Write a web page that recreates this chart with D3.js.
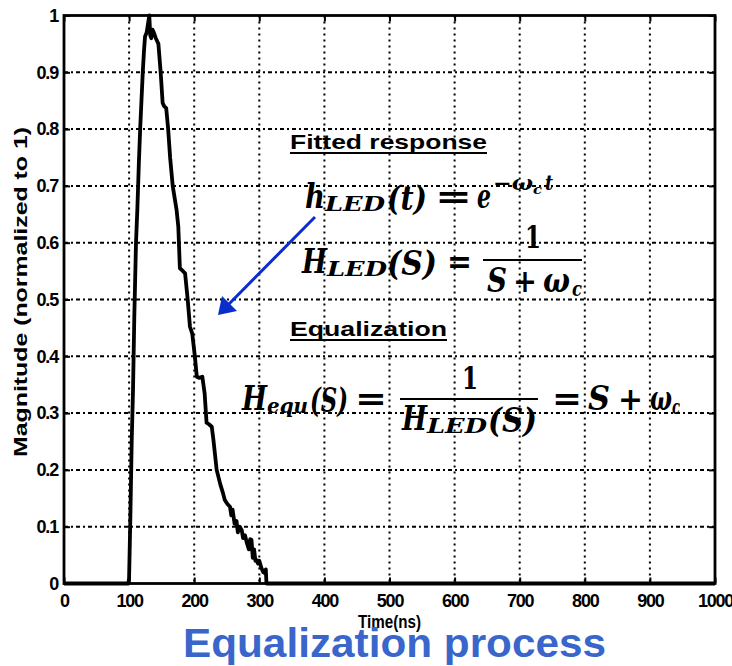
<!DOCTYPE html>
<html>
<head>
<meta charset="utf-8">
<script src="https://cdn.jsdelivr.net/npm/d3@7"></script>
<style>
  body { margin: 0; background: #fff; }
  text { font-family: "Liberation Sans", Arial, sans-serif; font-weight: bold; }
  .eq { font-family: "DejaVu Serif", serif; font-style: italic; font-weight: bold; }
  .eqr { font-family: "DejaVu Serif", serif; font-weight: bold; }
</style>
</head>
<body>
<div id="chart"></div>
<script>
// measured pulse, time (ns) vs normalized magnitude
var timeNs = [0, 99, 100, 102, 104, 106, 108, 110.6, 112.6, 115, 117, 119, 121, 123, 124.5, 127, 129, 131,
  132.5, 134, 136, 138, 141, 143, 145, 148.5, 151.5, 154, 157, 160, 163, 167, 170.5, 173, 175.6, 178, 181,
  186, 190, 193.5, 197, 201, 204, 208, 212.5, 216, 219, 223, 227, 229.5, 234.5, 240, 244, 247, 251, 255,
  257, 259, 262, 265, 267, 270, 273, 275, 278, 281, 284, 286, 288, 290, 292, 294, 296, 298, 300, 303, 306,
  309, 310, 311, 1000];
var magnitude = [0, 0, 0.01, 0.12, 0.25, 0.34, 0.47, 0.6, 0.657, 0.74, 0.8, 0.85, 0.9, 0.94, 0.963, 0.97, 0.985, 1.0,
  0.965, 0.96, 0.975, 0.97, 0.96, 0.955, 0.95, 0.9, 0.846, 0.84, 0.837, 0.8, 0.75, 0.7, 0.675, 0.657, 0.628, 0.555, 0.552,
  0.546, 0.5, 0.452, 0.44, 0.4, 0.364, 0.362, 0.364, 0.335, 0.283, 0.28, 0.276, 0.253, 0.2, 0.175, 0.16, 0.147, 0.14, 0.135,
  0.12, 0.13, 0.105, 0.11, 0.09, 0.1, 0.094, 0.08, 0.085, 0.071, 0.06, 0.078, 0.077, 0.045, 0.06, 0.04, 0.041, 0.035, 0.04, 0.028, 0.02,
  0.018, 0.025, 0, 0];

var xTicks = [0, 100, 200, 300, 400, 500, 600, 700, 800, 900, 1000];
var yTicks = [0, 0.1, 0.2, 0.3, 0.4, 0.5, 0.6, 0.7, 0.8, 0.9, 1];
var yTickLabels = ["0", "0.1", "0.2", "0.3", "0.4", "0.5", "0.6", "0.7", "0.8", "0.9", "1"];

var W = 732, H = 666;
var mLeft = 64, mRight = 715, mTop = 15.5, mBottom = 583.5;

var svg = d3.select("#chart").append("svg")
    .attr("width", W)
    .attr("height", H);
svg.append("rect").attr("width", W).attr("height", H).attr("fill", "#fff");

var x = d3.scaleLinear().domain([0, 1000]).range([mLeft, mRight]);
var y = d3.scaleLinear().domain([0, 1]).range([mBottom, mTop]);

// grid
svg.append("g").selectAll("line").data(xTicks.slice(1, -1)).enter().append("line")
    .attr("x1", d => x(d)).attr("x2", d => x(d))
    .attr("y1", mTop).attr("y2", mBottom)
    .attr("stroke", "#000").attr("stroke-width", 2)
    .attr("stroke-dasharray", "2,4");
svg.append("g").selectAll("line").data(yTicks.slice(1, -1)).enter().append("line")
    .attr("x1", mLeft).attr("x2", mRight)
    .attr("y1", d => y(d)).attr("y2", d => y(d))
    .attr("stroke", "#000").attr("stroke-width", 2)
    .attr("stroke-dasharray", "4,3,2,3");

// axes, ticks pointing inward
var gx = svg.append("g").attr("transform", "translate(0," + mBottom + ")")
    .call(d3.axisBottom(x).tickValues(xTicks).tickFormat(d3.format("d"))
      .tickSizeInner(-6).tickSizeOuter(0).tickPadding(11));
var gy = svg.append("g").attr("transform", "translate(" + mLeft + ",0)")
    .call(d3.axisLeft(y).tickValues(yTicks).tickFormat((d, i) => yTickLabels[i])
      .tickSizeInner(-6).tickSizeOuter(0).tickPadding(6));
var gt = svg.append("g").attr("transform", "translate(0," + mTop + ")")
    .call(d3.axisTop(x).tickValues(xTicks).tickSizeInner(-6).tickSizeOuter(0).tickFormat(""));
var gr = svg.append("g").attr("transform", "translate(" + mRight + ",0)")
    .call(d3.axisRight(y).tickValues(yTicks).tickSizeInner(-6).tickSizeOuter(0).tickFormat(""));

[gx, gy, gt, gr].forEach(function(g) {
  g.select(".domain").remove();
  g.selectAll(".tick line").attr("stroke", "#000").attr("stroke-width", 2);
  g.selectAll(".tick text").attr("fill", "#000")
    .style("font-family", '"Liberation Sans", Arial, sans-serif')
    .style("font-weight", "bold").style("font-size", "18px")
    .style("letter-spacing", "-1.2px");
});

// the pulse
var line = d3.line().x((d, i) => x(timeNs[i])).y(d => y(d));
svg.append("path").datum(magnitude)
    .attr("d", line)
    .attr("fill", "none")
    .attr("stroke", "#000")
    .attr("stroke-width", 3.8)
    .attr("stroke-linejoin", "round");

// box
svg.append("rect")
    .attr("x", mLeft).attr("y", mTop)
    .attr("width", mRight - mLeft).attr("height", mBottom - mTop)
    .attr("fill", "none").attr("stroke", "#000").attr("stroke-width", 2.8);

// axis labels
svg.append("text").attr("x", 358).attr("y", 628)
    .attr("textLength", 63).attr("lengthAdjust", "spacingAndGlyphs")
    .style("font-size", "18px").text("Time(ns)");
svg.append("text")
    .attr("transform", "translate(27,292) rotate(-90)")
    .attr("text-anchor", "middle")
    .attr("textLength", 330).attr("lengthAdjust", "spacingAndGlyphs")
    .style("font-size", "19px").text("Magnitude (normalized to 1)");

// headings
function heading(str, x0, w, base) {
  svg.append("text").attr("x", x0).attr("y", base)
      .attr("textLength", w).attr("lengthAdjust", "spacingAndGlyphs")
      .style("font-size", "21px").text(str);
  svg.append("line").attr("x1", x0).attr("x2", x0 + w)
      .attr("y1", base + 4).attr("y2", base + 4)
      .attr("stroke", "#000").attr("stroke-width", 2);
}
heading("Fitted response", 290, 197, 149);
heading("Equalization", 290, 157, 336);

// equations, piece by piece: [text, x0, width, baseline, size, class]
function eq(pieces) {
  pieces.forEach(function(p) {
    var t = svg.append("text").attr("class", p[5] || "eq")
        .attr("x", p[1]).attr("y", p[3])
        .style("font-size", p[4] + "px").text(p[0]);
    if (p[2]) t.attr("textLength", p[2]).attr("lengthAdjust", "spacingAndGlyphs");
  });
}
function bar(x1, x2, yy) {
  svg.append("line").attr("x1", x1).attr("x2", x2).attr("y1", yy).attr("y2", yy)
      .attr("stroke", "#000").attr("stroke-width", 2);
}

eq([["h", 305, 20, 208, 34], ["LED", 325, 60, 211, 20], ["(t)", 387, 40, 210, 34],
    ["=", 435, 37, 208, 34, "eqr"], ["e", 477, 14, 208, 34],
    ["\u2212\u03c9", 493, 40, 190, 20], ["c", 533, 9, 194, 13], ["t", 545, 8, 190, 20]]);

eq([["H", 302, 25, 273, 34], ["LED", 327, 60, 276, 20], ["(S)", 387, 50, 275, 34],
    ["=", 447, 25, 273, 34, "eqr"], ["1", 525, 16, 248, 32, "eqr"],
    ["S", 487, 20, 292, 34], ["+", 513, 24, 292, 32, "eqr"], ["\u03c9", 543, 27, 292, 34], ["c", 572, 10, 296, 20]]);
bar(483, 582, 260);

eq([["H", 242, 25, 410, 34], ["equ", 267, 41, 413, 20], ["(S)", 310, 38, 412, 34],
    ["=", 355, 32, 410, 34, "eqr"], ["1", 462, 16, 389, 32, "eqr"],
    ["H", 402, 25, 430, 34], ["LED", 427, 60, 433, 20], ["(S)", 488, 49, 432, 34],
    ["=", 552, 30, 410, 34, "eqr"], ["S", 588, 22, 410, 34], ["+", 618, 25, 410, 32, "eqr"],
    ["\u03c9", 650, 22, 410, 34], ["c", 672, 8, 414, 20]]);
bar(400, 538, 399);

// arrow
svg.append("line").attr("x1", 315).attr("y1", 217).attr("x2", 228).attr("y2", 305)
    .attr("stroke", "#0a2ecc").attr("stroke-width", 3);
svg.append("path").attr("d", "M218,315 L222,296 L237,311 Z").attr("fill", "#0a2ecc");

// title
svg.append("text").attr("x", 183).attr("y", 657)
    .attr("textLength", 423).attr("lengthAdjust", "spacingAndGlyphs")
    .style("font-size", "41px").attr("fill", "#3a66cc")
    .text("Equalization process");
</script>
</body>
</html>
